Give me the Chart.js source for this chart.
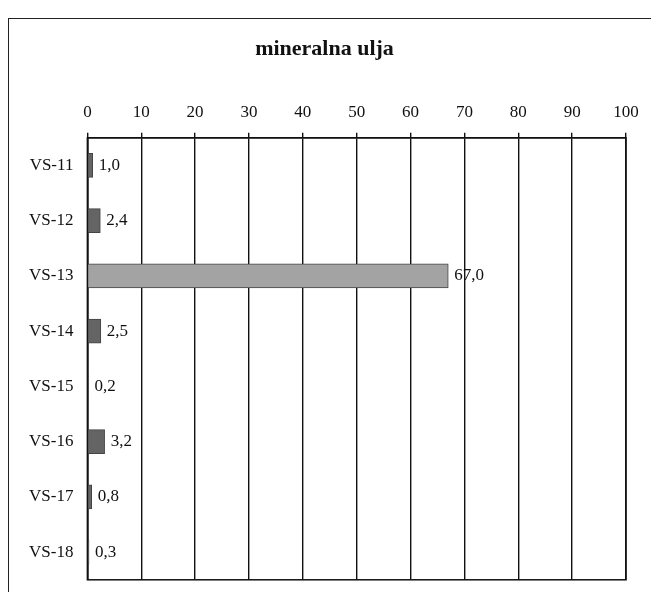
<!DOCTYPE html>
<html>
<head>
<meta charset="utf-8">
<script src="https://cdn.jsdelivr.net/npm/chart.js@4"></script>
<style>
  body { margin: 0; background: #fff; }
  #wrap { position: relative; width: 651px; height: 592px; overflow: hidden; }
  #frame { position: absolute; left: 8px; top: 18px; width: 700px; height: 700px; border: 1.5px solid #222; box-sizing: border-box; }
  canvas { position: absolute; left: 0; top: 0; }
</style>
</head>
<body>
<div id="wrap">
  <div id="frame"></div>
  <canvas id="myChart" width="651" height="596"></canvas>
</div>
<script>
// podaci
const categories = ['VS-11', 'VS-12', 'VS-13', 'VS-14', 'VS-15', 'VS-16', 'VS-17', 'VS-18'];
const values = [1.0, 2.4, 67.0, 2.5, 0.2, 3.2, 0.8, 0.3];
const xTicks = [0, 10, 20, 30, 40, 50, 60, 70, 80, 90, 100];

const barColors = values.map(v => v > 10 ? '#a3a3a3' : '#646464');

// okvir oko plot area + oznake vrijednosti
const areaBox = {
  id: 'areaBox',
  afterDatasetsDraw(chart) {
    const { ctx, chartArea } = chart;
    ctx.save();
    ctx.strokeStyle = '#111';
    ctx.lineWidth = 1.5;
    ctx.strokeRect(chartArea.left, chartArea.top, chartArea.right - chartArea.left, chartArea.bottom - chartArea.top);

    const meta = chart.getDatasetMeta(0);
    ctx.fillStyle = '#111';
    ctx.font = '17px "Liberation Serif", serif';
    ctx.textBaseline = 'middle';
    ctx.textAlign = 'left';
    meta.data.forEach((bar, i) => {
      const txt = values[i].toFixed(1).replace('.', ',');
      ctx.fillText(txt, bar.x + 6, bar.y);
    });
    ctx.restore();
  }
};

const config = {
  type: 'bar',
  data: {
    labels: categories,
    datasets: [{
      data: values,
      backgroundColor: barColors,
      borderColor: '#444',
      borderWidth: 1,
      barThickness: 24
    }]
  },
  options: {
    indexAxis: 'y',
    responsive: false,
    animation: false,
    layout: {
      padding: { left: 23, right: 25, top: 0, bottom: 1 }
    },
    plugins: {
      legend: { display: false },
      tooltip: { enabled: false },
      title: {
        display: true,
        text: 'mineralna ulja',
        color: '#111',
        font: { family: '"Liberation Serif", serif', size: 22, weight: 'bold' },
        padding: { top: 36, bottom: 30 }
      }
    },
    scales: {
      x: {
        position: 'top',
        min: 0,
        max: 100,
        afterBuildTicks: (axis) => { axis.ticks = xTicks.map(v => ({ value: v })); },
        ticks: {
          color: '#111',
          padding: 10,
          maxRotation: 0,
          font: { family: '"Liberation Serif", serif', size: 17 }
        },
        grid: {
          color: '#111',
          lineWidth: 1.4,
          tickLength: 5,
          drawTicks: true
        },
        border: { display: true, color: '#111', width: 1.5 }
      },
      y: {
        ticks: {
          color: '#111',
          padding: 6,
          font: { family: '"Liberation Serif", serif', size: 17 }
        },
        grid: { display: false },
        border: { display: true, color: '#111', width: 1.5 }
      }
    }
  },
  plugins: [areaBox]
};

const ctx = document.getElementById('myChart').getContext('2d');
let myChart = new Chart(ctx, config);
</script>
</body>
</html>
